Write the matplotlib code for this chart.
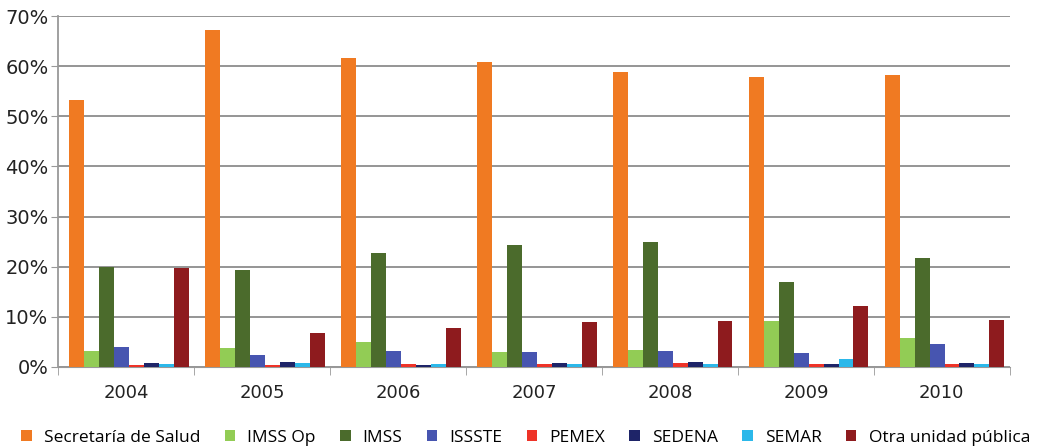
import numpy as np
import matplotlib.pyplot as plt
from matplotlib import font_manager
from matplotlib.ticker import FuncFormatter

years = ["2004", "2005", "2006", "2007", "2008", "2009", "2010"]
series = ["Secretaría de Salud", "IMSS Op", "IMSS", "ISSSTE", "PEMEX",
          "SEDENA", "SEMAR", "Otra unidad pública"]

secretaria = [53.2, 67.2, 61.6, 60.8, 58.9, 57.9, 58.2]
imss_op = [3.2, 3.8, 4.9, 2.9, 3.3, 9.1, 5.8]
imss = [20.0, 19.3, 22.8, 24.3, 24.9, 16.9, 21.8]
issste = [4.0, 2.4, 3.2, 3.0, 3.1, 2.7, 4.5]
pemex = [0.4, 0.4, 0.5, 0.6, 0.8, 0.5, 0.6]
sedena = [0.7, 0.9, 0.4, 0.7, 0.9, 0.6, 0.7]
semar = [0.5, 0.7, 0.6, 0.5, 0.5, 1.6, 0.6]
otra = [19.8, 6.8, 7.7, 8.9, 9.1, 12.2, 9.3]

colors = ["#F07A22", "#92CC55", "#4B6B2C", "#4755B0",
          "#EE3328", "#1E2468", "#2BB8EA", "#8E1B1E"]

values = [secretaria, imss_op, imss, issste, pemex, sedena, semar, otra]

installed = {f.name for f in font_manager.fontManager.ttflist}
legend_font = "Liberation Sans Narrow" if "Liberation Sans Narrow" in installed else "Open Sans"

fig = plt.figure(figsize=(10.41, 4.48), dpi=100)
ax = fig.add_axes([0.056, 0.181, 0.914, 0.783])

x = np.arange(len(years))
w = 0.11
for i, (name, vals, c) in enumerate(zip(series, values, colors)):
    pos = x - 0.42 + w * (i + 0.5)
    ax.bar(pos, vals, width=w, color=c, edgecolor="none", label=name, zorder=3)

ax.set_xlim(-0.5, len(years) - 0.5)
ax.set_ylim(0, 70)
ax.set_yticks(range(0, 71, 10))
ax.yaxis.set_major_formatter(FuncFormatter(lambda v, p: f"{int(v)}%"))
ax.set_xticks(x)
ax.set_xticklabels(years)
ax.set_xticks(np.arange(-0.5, len(years)), minor=True)
ax.tick_params(axis="x", which="major", length=0, labelsize=13, pad=12, colors="#222222")
ax.tick_params(axis="x", which="minor", length=6, color="#999999")
ax.tick_params(axis="y", length=5, color="#999999", labelsize=14, colors="#222222", pad=2)

ax.grid(axis="y", color="#8c8c8c", linewidth=1.3, zorder=0)
for s in ["top", "right"]:
    ax.spines[s].set_visible(False)
ax.spines["left"].set_color("#999999")
ax.spines["bottom"].set_color("#999999")
ax.spines["left"].set_linewidth(1.3)

ax.legend(loc="center", bbox_to_anchor=(0.505, 0.023), bbox_transform=fig.transFigure,
          ncol=8, frameon=False, handlelength=0.6, handleheight=0.6,
          handletextpad=0.7, columnspacing=1.4,
          prop={"family": legend_font, "size": 12.5})

fig.savefig("out.png", dpi=100)
